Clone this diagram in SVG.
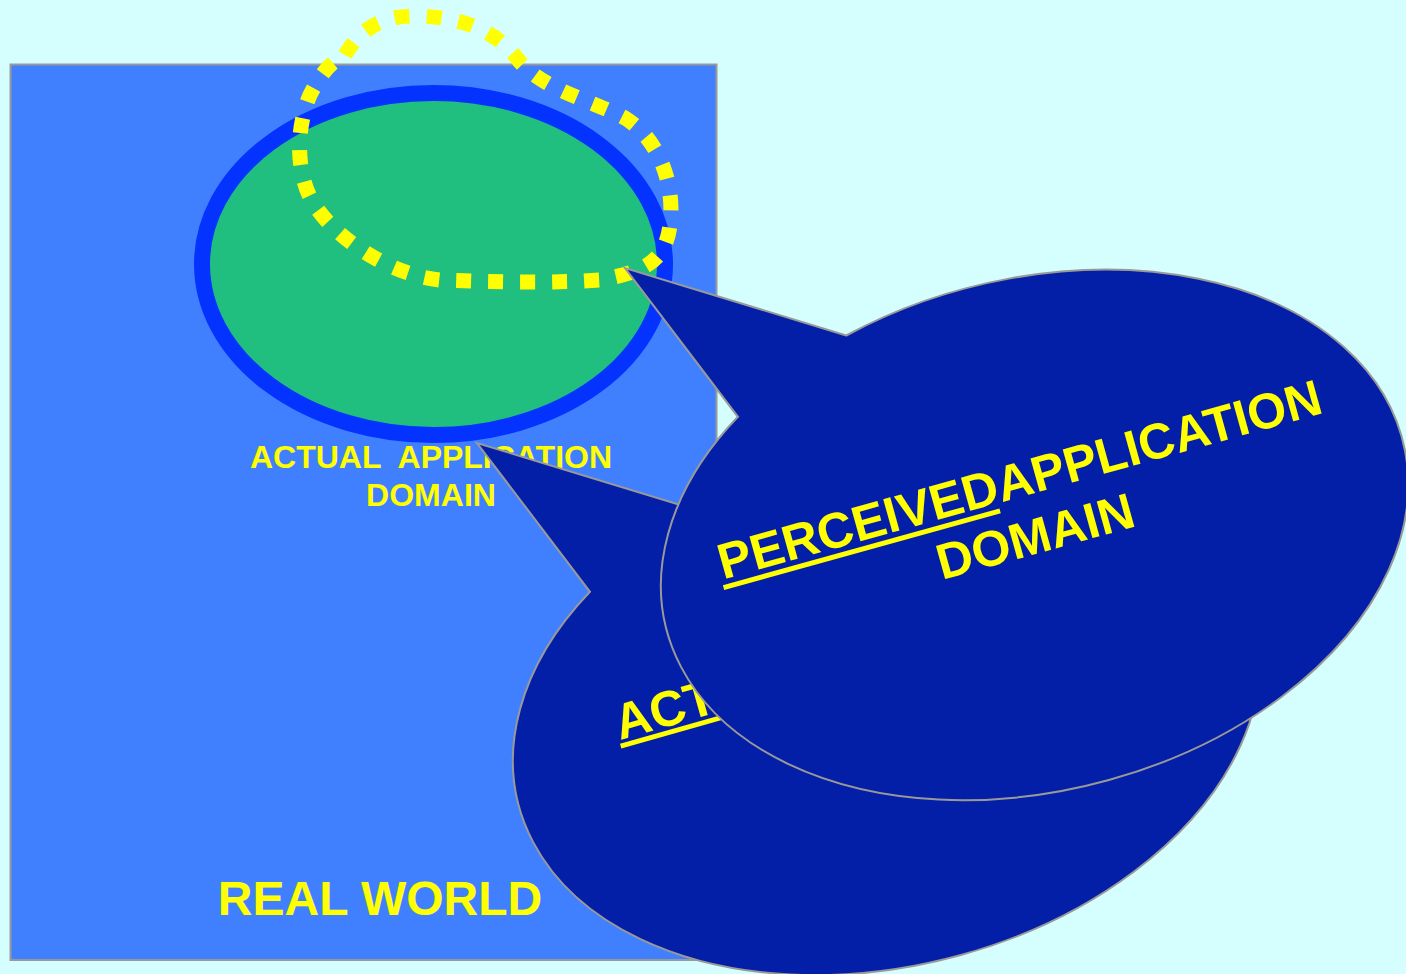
<svg xmlns="http://www.w3.org/2000/svg" width="1406" height="974" viewBox="0 0 1406 974">
  <style>
    .lbl { font-family: "Liberation Sans", Arial, sans-serif; font-weight: bold; fill: #FFFF00; }
    .callout { fill: #031FA8; stroke: #999999; stroke-width: 2; }
    .uline { stroke: #FFFF00; stroke-width: 5; }
  </style>

  <!-- backdrop -->
  <rect x="0" y="0" width="1406" height="974" fill="#D5FFFF"/>

  <!-- real world box -->
  <g id="real-world">
    <rect x="10.5" y="64.5" width="706" height="895.5" fill="#4080FF" stroke="#999999" stroke-width="2"/>
    <text class="lbl" x="380" y="915" font-size="48" text-anchor="middle">REAL WORLD</text>
  </g>

  <!-- actual application domain -->
  <g id="actual-domain">
    <ellipse cx="433.5" cy="264" rx="231.5" ry="171" fill="#20BF80" stroke="#0433FF" stroke-width="16"/>
    <text class="lbl" font-size="32" text-anchor="middle" xml:space="preserve"><tspan x="431" y="468">ACTUAL  APPLICATION</tspan><tspan x="431" y="506">DOMAIN</tspan></text>
  </g>

  <!-- perceived boundary, dotted loop -->
  <g id="perceived-boundary">
    <path d="M 345,55 C 360,30 380,15 420,16 C 470,18 500,35 520,62 C 545,90 590,100 625,118 C 660,140 675,185 670,225 C 665,265 640,272 600,280 C 540,284 480,281 440,280 C 390,275 340,240 318,210 C 295,180 295,130 310,95 C 320,75 330,62 345,55 Z" fill="none" stroke="#FFFF00" stroke-width="15" stroke-dasharray="15 17"/>
  </g>

  <!-- callout: actual application domain -->
  <g id="callout-actual">
    <path class="callout" d="M 698.3,510.5 L 477,443 L 589.9,591.8 A 380 256 -14.3 1 0 698.3,510.5 Z"/>
    <g transform="translate(620,740) rotate(-15.8)">
      <text class="lbl" x="0" y="0" font-size="50">ACTUAL</text>
      <line class="uline" x1="-1" y1="6" x2="190" y2="6"/>
    </g>
  </g>

  <!-- callout: perceived application domain -->
  <g id="callout-perceived">
    <path class="callout" d="M 846.3,335.5 L 625,268 L 737.9,416.8 A 380 256 -14.3 1 0 846.3,335.5 Z"/>
    <g transform="translate(1024,496) rotate(-15.5)">
      <text class="lbl" x="0" y="0" font-size="50" text-anchor="middle">PERCEIVEDAPPLICATION</text>
      <line class="uline" x1="-314" y1="8" x2="-27" y2="8"/>
      <text class="lbl" x="0" y="59" font-size="50" text-anchor="middle">DOMAIN</text>
    </g>
  </g>
</svg>
